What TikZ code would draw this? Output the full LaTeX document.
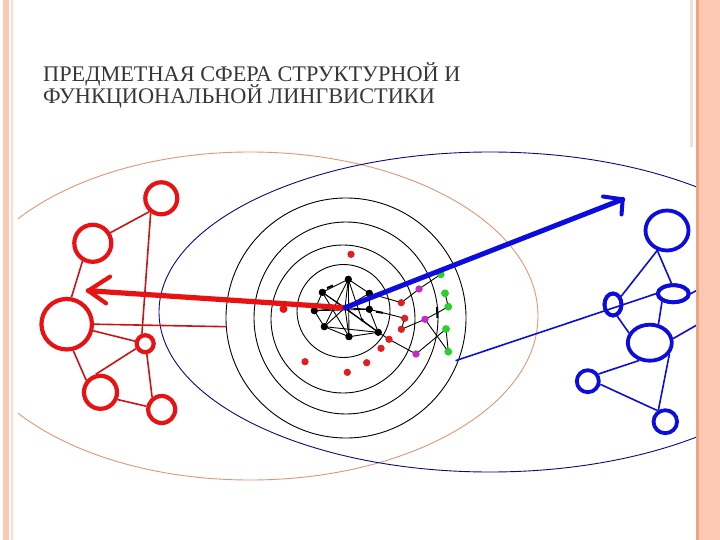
\documentclass[tikz,border=0pt]{standalone}
\usepackage{fontspec}
\setmainfont{Liberation Serif}
\usetikzlibrary{shapes.geometric}
\definecolor{rred}{RGB}{232,18,18}
\definecolor{rline}{RGB}{200,22,22}
\definecolor{bblue}{RGB}{12,12,222}
\definecolor{navy}{RGB}{10,10,130}
\definecolor{salm}{RGB}{226,150,120}
\definecolor{band}{RGB}{251,200,178}
\definecolor{bandedge}{RGB}{242,162,128}
\definecolor{paleline}{RGB}{248,222,210}
\definecolor{titlecol}{RGB}{55,55,55}
\definecolor{dotred}{RGB}{226,30,30}
\definecolor{dotpurple}{RGB}{200,40,200}
\definecolor{dotgreen}{RGB}{40,210,40}
\begin{document}
\begin{tikzpicture}[x=1pt,y=-1pt,
  titletext/.style={anchor=base west, inner sep=0, text=titlecol, font=\fontsize{22.3}{26}\selectfont},
  rnode/.style={circle, draw=rred, line width=4.2pt, inner sep=0},
  bnode/.style={ellipse, draw=bblue, line width=3.8pt, inner sep=0},
  rthin/.style={draw=rline, line width=1.6pt},
  bthin/.style={draw=bblue, line width=1.6pt},
  kthin/.style={draw=black, line width=0.9pt},
  ring/.style={draw=black, line width=0.9pt},
  dotb/.style={circle, fill=black, inner sep=0, minimum size=7pt},
  dotr/.style={circle, fill=dotred, inner sep=0, minimum size=7pt},
  dotp/.style={circle, fill=dotpurple, inner sep=0, minimum size=7pt},
  dotg/.style={circle, fill=dotgreen, inner sep=0, minimum size=7.5pt},
  redarrow/.style={draw=rred, line width=5.2pt, line cap=round, line join=round},
  bluearrow/.style={draw=bblue, line width=5pt, line cap=round, line join=round}]
\useasboundingbox (0,0) rectangle (720,540);
\fill[white] (0,0) rectangle (720,540);

% title
\node[titletext] (t1) at (43,81.5) {ПРЕДМЕТНАЯ СФЕРА СТРУКТУРНОЙ И};
\node[titletext] (t2) at (43,104) {ФУНКЦИОНАЛЬНОЙ ЛИНГВИСТИКИ};

\begin{scope}
\clip (18,140) rectangle (696,500);
% big ellipses
\draw[salm, line width=0.9pt] (250,316) ellipse [x radius=288, y radius=164];
\draw[navy, line width=0.9pt] (490,312) ellipse [x radius=331, y radius=160];
% concentric rings
\draw[ring] (346,318) ellipse [x radius=120, y radius=120];
\draw[ring] (346,318) ellipse [x radius=92, y radius=96];
\draw[ring] (343,319) ellipse [x radius=72, y radius=74];
\draw[ring] (343.5,311) ellipse [x radius=46.5, y radius=46.5];

% central cluster
\coordinate (hub) at (345,307.7);
\node[dotb] (bT) at (348.3,279.3) {};
\node[dotb] (bUL) at (322.3,292.3) {};
\node[dotb] (bUR) at (369.3,293.3) {};
\node[dotb] (bL) at (314.3,310.7) {};
\node[dotb] (bR) at (369.3,309.3) {};
\node[dotb] (bLL) at (324.3,326.7) {};
\node[dotb] (bB) at (349,336.7) {};
\node[dotb] (bLR) at (378.3,332.3) {};
\node[circle, fill=black, inner sep=0, minimum size=3.5pt] (bS) at (362,320) {};
\foreach \n in {bT,bUL,bUR,bL,bR,bLL,bB,bLR} \draw[kthin] (hub) -- (\n.center);
\draw[kthin] (bT.center) -- (bUL.center) -- (bL.center) -- (bLL.center) -- (bB.center) -- (bLR.center) -- (bR.center) -- (bUR.center) -- (bT.center);
\draw[kthin] (bT.center) -- (bB.center);
\draw[kthin] (bT.center) -- (bLL.center);
\draw[kthin] (bT.center) -- (bS.center) -- (bLR.center);
\draw[kthin] (bUL.center) -- (bLR.center);
\draw[kthin] (bL.center) -- (bR.center);
\draw[kthin] (bLL.center) -- (bLR.center);
\draw[kthin] (bUL.center) -- (bB.center);

% coloured dots
\node[dotr] (r1) at (351,254.3) {};
\node[dotr] (r2) at (401.3,302.7) {};
\node[dotr] (r3) at (404.7,318.3) {};
\node[dotr] (r4) at (401.3,329.3) {};
\node[dotr] (r5) at (389,339.3) {};
\node[dotr] (r6) at (381,348.3) {};
\node[dotr] (r7) at (305,361.7) {};
\node[dotr] (r8) at (366.7,362.7) {};
\node[dotr] (r9) at (347.3,372.3) {};
\node[dotp] (p1) at (419,289) {};
\node[dotp] (p2) at (425,319.3) {};
\node[dotp] (p3) at (416,354) {};
\node[dotg] (g1) at (440.7,274.3) {};
\node[dotg] (g2) at (445,293.3) {};
\node[dotg] (g3) at (448.3,306.7) {};
\node[dotg] (g4) at (446,329) {};
\node[dotg] (g5) at (448.3,351.7) {};
\coordinate (J) at (437,313);
\draw[kthin] (bUR.center) -- (r2.center) -- (p1.center) -- (g1.center);
\draw[kthin] (bR.center) -- (r3.center) -- (r4.center);
\draw[kthin] (r4.center) -- (p2.center) -- (J) -- (g3.center);
\draw[kthin] (g2.center) -- (g3.center);
\draw[kthin] (p2.center) -- (g5.center);
\draw[kthin] (g4.center) -- (p3.center);
\draw[kthin] (g4.center) -- (g5.center);
\draw[kthin] (bLR.center) -- (r5.center) -- (p3.center);
% small thick ticks
\draw[black, line width=2pt] (437,307) -- (437.5,318);
\draw[black, line width=2pt] (376,311.8) -- (383,312.8);
\draw[black, line width=2pt] (327,288) -- (333,285.5);
\foreach \n in {r1,r2,r3,r4,r5,r6,r7,r8,r9} \node[dotr] at (\n) {};
\foreach \n in {p1,p2,p3} \node[dotp] at (\n) {};
\foreach \n in {g1,g2,g3,g4,g5} \node[dotg] at (\n) {};
\foreach \n in {bT,bUL,bUR,bL,bR,bLL,bB,bLR} \node[dotb] at (\n) {};

% red network
\node[rnode, minimum size=32pt] (RTR) at (161.3,198.3) {};
\node[rnode, minimum size=37pt] (RUL) at (92.8,243.3) {};
\node[rnode, minimum size=50.5pt] (RBIG) at (66.7,324.2) {};
\node[rnode, minimum size=17pt] (RSM) at (145.2,343.7) {};
\node[rnode, minimum size=33pt] (RLL) at (100.5,392.3) {};
\node[rnode, minimum size=27pt] (RLR) at (161.7,409.5) {};
\coordinate (Lend) at (226.5,326.7);
\draw[rthin] (RTR.228) -- (RUL.31);
\draw[rthin] (RTR.234) -- (RSM.108);
\draw[rthin] (RUL.240) -- (RBIG.80);
\draw[rthin] (RBIG.east) -- (Lend);
\draw[rthin] (RBIG) -- (RSM);
\draw[rthin] (RBIG.284) -- (RLL.140);
\draw[rthin] (RLL.105) -- (RSM.208);
\draw[rthin] (RLL.337) -- (RLR.168);
\draw[rthin] (RSM.279) -- (RLR.128);

% blue network
\node[bnode, minimum width=43pt, minimum height=40pt] (BT) at (667,230.5) {};
\node[bnode, minimum width=31pt, minimum height=17pt] (HE) at (673.3,293.7) {};
\node[bnode, minimum width=17pt, minimum height=22pt] (SV) at (613,304.5) {};
\node[bnode, minimum width=44pt, minimum height=36pt] (BE) at (649.8,342.7) {};
\node[bnode, minimum width=22pt, minimum height=22pt] (SC) at (587.8,381.2) {};
\node[bnode, minimum width=23.5pt, minimum height=23pt] (BB) at (665.3,421.7) {};
\coordinate (Bstart) at (455.5,360.7);
\coordinate (Bend) at (702,287.5);
\coordinate (Bend2) at (702,322);
\draw[bthin] (BT.244) -- (SV.45);
\draw[bthin] (BT.244) -- (HE.100);
\draw[bthin] (Bstart) -- (HE.west);
\draw[bthin] (HE.east) -- (Bend);
\draw[bthin] (SV.290) -- (BE.155);
\draw[bthin] (HE.215) -- (BE.65);
\draw[bthin] (BE.10) -- (Bend2);
\draw[bthin] (BE.239) -- (SC.34);
\draw[bthin] (BE.330) -- (BB.121);
\draw[bthin] (SC.346) -- (BB.125);
% redraw blue nodes on top of thin lines
\node[bnode, minimum width=17pt, minimum height=22pt] at (SV) {};
\node[bnode, minimum width=31pt, minimum height=17pt] at (HE) {};

% arrows
\coordinate (rtip) at (88.3,290.7);
\coordinate (rh1) at (110,276.7);
\coordinate (rh2) at (106,303.3);
\draw[redarrow] (hub) -- (rtip);
\draw[redarrow, line width=4.2pt] (rh1) -- (rtip) -- (rh2);
\node[circle, fill=rred, inner sep=0, minimum size=8pt] (blob) at (283.5,309) {};
\coordinate (btip) at (622.7,199.3);
\coordinate (bh1) at (603,196.5);
\coordinate (bh2) at (621.5,214.5);
\draw[bluearrow] (hub) -- (btip);
\draw[bluearrow, line width=4pt] (bh1) -- (btip) -- (bh2);
\end{scope}

% slide borders
\fill[band] (3,0) rectangle (8.5,540);
\fill[paleline] (11,0) rectangle (13,540);
\fill[paleline] (689.5,0) rectangle (692.5,147);
\fill[band] (696,0) rectangle (720,540);
\fill[bandedge] (696,0) rectangle (698.5,540);
\end{tikzpicture}
\end{document}
